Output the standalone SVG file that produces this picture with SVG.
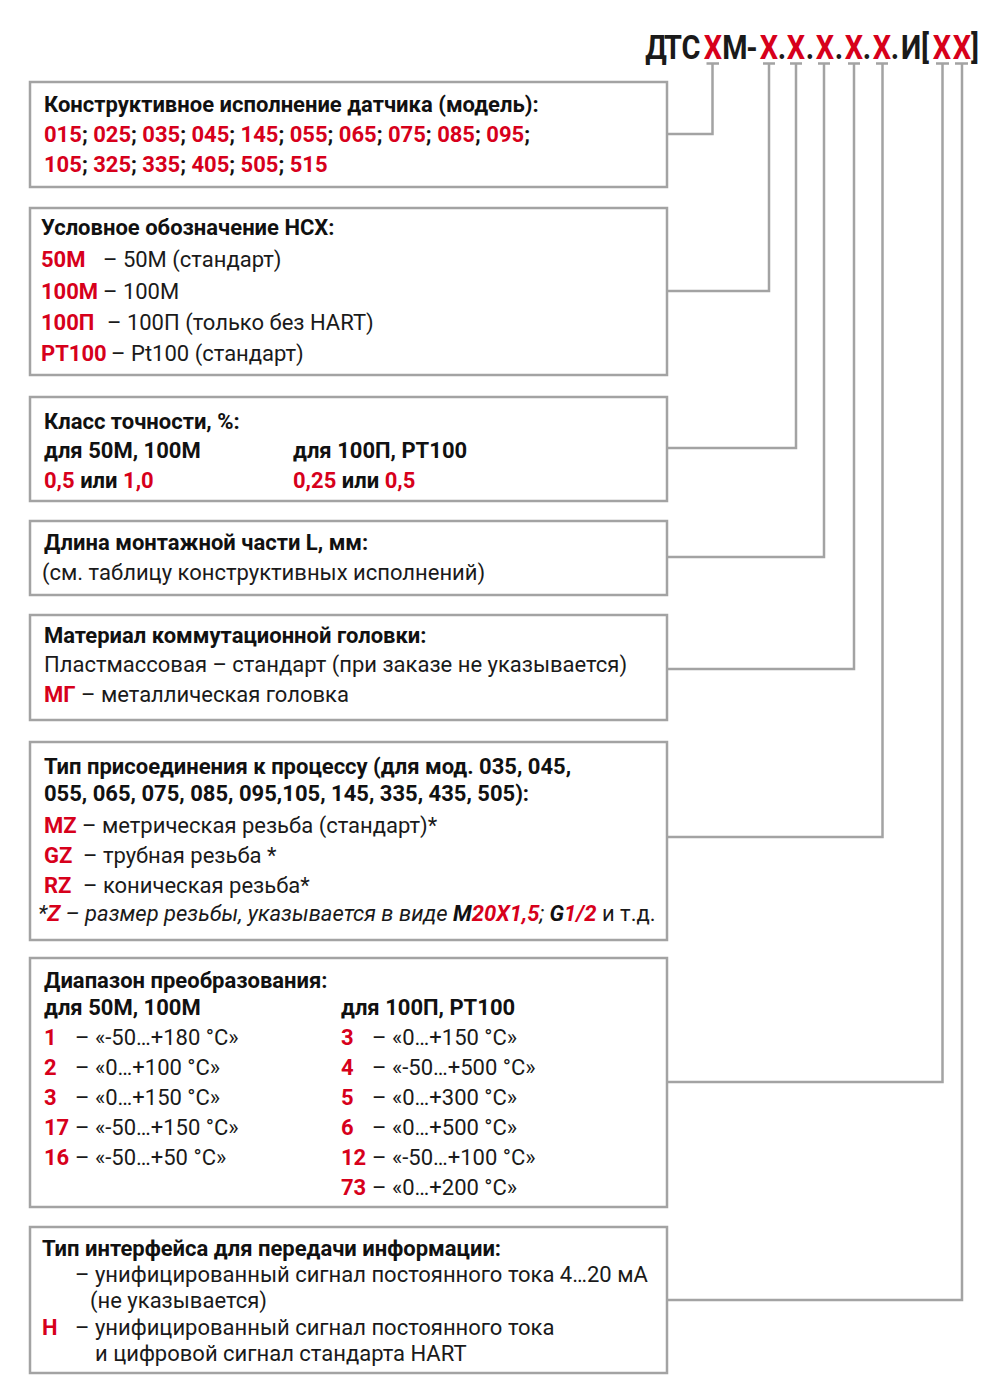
<svg xmlns="http://www.w3.org/2000/svg" width="999" height="1400" viewBox="0 0 999 1400">
<style>
text{font-family:Roboto,"Liberation Sans",sans-serif;font-size:22px;fill:#1a1a1a}
.h{font-weight:700;fill:#111}
.b{font-weight:700;fill:#111}
.r{font-weight:700;fill:#d7001b}
.box{fill:#fff;stroke:#a3a3a3;stroke-width:2.5}
.con{fill:none;stroke:#a3a3a3;stroke-width:2.5}
.ttl{font-family:Roboto,"Liberation Sans",sans-serif;font-size:34px;font-weight:700;fill:#1a1a1a}
.tr{fill:#d7001b}
.it{font-style:italic}
</style>
<rect width="999" height="1400" fill="#fff"/>
<g id="title">
<g transform="scale(0.85,1)">
<text class="ttl" y="59" text-anchor="middle"><tspan x="771.8">Д</tspan><tspan x="791.8">Т</tspan><tspan x="812.9">С</tspan><tspan class="tr" x="838.8">X</tspan><tspan x="864.7">М</tspan><tspan x="884.7">-</tspan><tspan class="tr" x="904.7">X</tspan><tspan x="920">.</tspan><tspan class="tr" x="936.5">X</tspan><tspan x="952.9">.</tspan><tspan class="tr" x="970.6">X</tspan><tspan x="987">.</tspan><tspan class="tr" x="1004.7">X</tspan><tspan x="1020">.</tspan><tspan class="tr" x="1037.6">X</tspan><tspan x="1052.9">.</tspan><tspan x="1071.8">И</tspan><tspan x="1088.2">[</tspan><tspan class="tr" x="1108.2">X</tspan><tspan class="tr" x="1131.8">X</tspan><tspan x="1147">]</tspan></text>
</g>
</g>
<g id="connectors">
<path class="con" d="M706.5 63.5H719M712.5 63.5V134H667"/>
<path class="con" d="M763 63.5H775M769 63.5V291H667"/>
<path class="con" d="M790 63.5H802M796 63.5V448H667"/>
<path class="con" d="M818 63.5H830M824 63.5V557H667"/>
<path class="con" d="M848 63.5H860M854 63.5V669H667"/>
<path class="con" d="M876 63.5H888M882.5 63.5V837H667"/>
<path class="con" d="M936 63.5H949M942.5 63.5V1082H667"/>
<path class="con" d="M955 63.5H968M962 63.5V1300H667"/>
</g>
<g id="box1">
<rect class="box" x="30" y="82" width="637" height="105"/>
<text x="44" y="112" class="h">Конструктивное исполнение датчика (модель):</text>
<text x="44" y="142" class="b"><tspan class="r">015</tspan>; <tspan class="r">025</tspan>; <tspan class="r">035</tspan>; <tspan class="r">045</tspan>; <tspan class="r">145</tspan>; <tspan class="r">055</tspan>; <tspan class="r">065</tspan>; <tspan class="r">075</tspan>; <tspan class="r">085</tspan>; <tspan class="r">095</tspan>;</text>
<text x="44" y="172" class="b"><tspan class="r">105</tspan>; <tspan class="r">325</tspan>; <tspan class="r">335</tspan>; <tspan class="r">405</tspan>; <tspan class="r">505</tspan>; <tspan class="r">515</tspan></text>
</g>
<g id="box2">
<rect class="box" x="30" y="208" width="637" height="167"/>
<text x="41" y="235" class="h">Условное обозначение НСХ:</text>
<text y="267"><tspan x="41" class="r">50М</tspan><tspan x="103">– 50М (стандарт)</tspan></text>
<text y="299"><tspan x="41" class="r">100М</tspan><tspan x="103">– 100М</tspan></text>
<text y="330"><tspan x="41" class="r">100П</tspan><tspan x="107">– 100П (только без HART)</tspan></text>
<text y="361"><tspan x="41" class="r">PT100</tspan><tspan x="111">– Pt100 (стандарт)</tspan></text>
</g>
<g id="box3">
<rect class="box" x="30" y="397" width="637" height="104"/>
<text x="44" y="429" class="h">Класс точности, %:</text>
<text x="44" y="458" class="b">для 50М, 100М</text>
<text x="293" y="458" class="b">для 100П, PT100</text>
<text x="44" y="488" class="b"><tspan class="r">0,5</tspan> или <tspan class="r">1,0</tspan></text>
<text x="293" y="488" class="b"><tspan class="r">0,25</tspan> или <tspan class="r">0,5</tspan></text>
</g>
<g id="box4">
<rect class="box" x="30" y="521" width="637" height="74"/>
<text x="44" y="550" class="h">Длина монтажной части L, мм:</text>
<text x="42" y="580">(см. таблицу конструктивных исполнений)</text>
</g>
<g id="box5">
<rect class="box" x="30" y="615" width="637" height="105"/>
<text x="44" y="643" class="h">Материал коммутационной головки:</text>
<text x="44" y="672">Пластмассовая – стандарт (при заказе не указывается)</text>
<text x="44" y="702"><tspan class="r">МГ</tspan> – металлическая головка</text>
</g>
<g id="box6">
<rect class="box" x="30" y="742" width="637" height="198"/>
<text x="44" y="774" class="h">Тип присоединения к процессу (для мод. 035, 045,</text>
<text x="44" y="801" class="h">055, 065, 075, 085, 095,105, 145, 335, 435, 505):</text>
<text y="833"><tspan x="44" class="r">MZ</tspan><tspan x="82">– метрическая резьба (стандарт)*</tspan></text>
<text y="863"><tspan x="44" class="r">GZ</tspan><tspan x="83">– трубная резьба *</tspan></text>
<text y="893"><tspan x="44" class="r">RZ</tspan><tspan x="83">– коническая резьба*</tspan></text>
<text x="38" y="921" class="it">*<tspan class="r">Z</tspan> – размер резьбы, указывается в виде <tspan class="b">M</tspan><tspan class="r">20X1,5</tspan>; <tspan class="b">G</tspan><tspan class="r">1/2</tspan> <tspan style="font-style:normal">и т.д.</tspan></text>
</g>
<g id="box7">
<rect class="box" x="30" y="958" width="637" height="249"/>
<text x="44" y="988" class="h">Диапазон преобразования:</text>
<text x="44" y="1015" class="b">для 50М, 100М</text>
<text x="341" y="1015" class="b">для 100П, PT100</text>
<text y="1045"><tspan x="44" class="r">1</tspan><tspan x="75">– «-50…+180 °C»</tspan><tspan x="341" class="r">3</tspan><tspan x="372">– «0…+150 °C»</tspan></text>
<text y="1075"><tspan x="44" class="r">2</tspan><tspan x="75">– «0…+100 °C»</tspan><tspan x="341" class="r">4</tspan><tspan x="372">– «-50…+500 °C»</tspan></text>
<text y="1105"><tspan x="44" class="r">3</tspan><tspan x="75">– «0…+150 °C»</tspan><tspan x="341" class="r">5</tspan><tspan x="372">– «0…+300 °C»</tspan></text>
<text y="1135"><tspan x="44" class="r">17</tspan><tspan x="75">– «-50…+150 °C»</tspan><tspan x="341" class="r">6</tspan><tspan x="372">– «0…+500 °C»</tspan></text>
<text y="1165"><tspan x="44" class="r">16</tspan><tspan x="75">– «-50…+50 °C»</tspan><tspan x="341" class="r">12</tspan><tspan x="372">– «-50…+100 °C»</tspan></text>
<text y="1195"><tspan x="341" class="r">73</tspan><tspan x="372">– «0…+200 °C»</tspan></text>
</g>
<g id="box8">
<rect class="box" x="30" y="1227" width="637" height="146"/>
<text x="42" y="1256" class="h">Тип интерфейса для передачи информации:</text>
<text x="75" y="1282">– унифицированный сигнал постоянного тока 4…20 мА</text>
<text x="90" y="1308">(не указывается)</text>
<text y="1335"><tspan x="42" class="r">Н</tspan><tspan x="75">– унифицированный сигнал постоянного тока</tspan></text>
<text x="95" y="1361">и цифровой сигнал стандарта HART</text>
</g>
</svg>
